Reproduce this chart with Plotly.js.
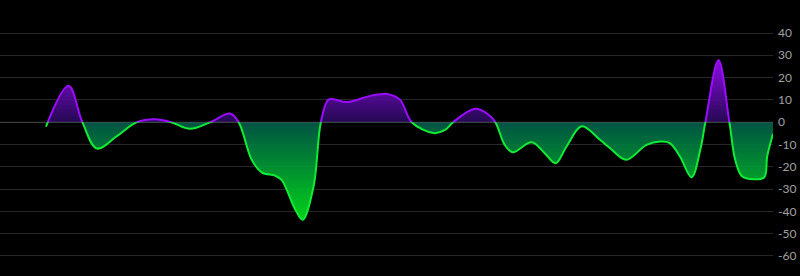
<!DOCTYPE html>
<html>
<head>
<meta charset="utf-8">
<script src="https://cdn.plot.ly/plotly-3.0.1.min.js"></script>
<style>
  html, body { margin: 0; padding: 0; background: #000; }
  #chart { width: 800px; height: 276px; }
</style>
</head>
<body>
<div id="chart"></div>
<script>
// time (arbitrary units) and signal values
const time = [0, 3.1, 5.0, 7.0, 9.7, 12.5, 15.0, 17.2, 19.8, 22.6, 25.3, 26.5, 28.3, 29.7, 31.5, 32.4,
  34.3, 35.3, 36.8, 37.8, 38.8, 39.5, 41.4, 44.6, 46.9, 48.7, 50.3, 53.3, 54.9, 56.0, 59.0, 60.6,
  61.8, 63.1, 64.2, 66.8, 68.6, 70.1, 71.6, 73.7, 76.2, 77.6, 79.8, 82.6, 84.5, 85.8, 87.2, 88.8,
  90.0, 90.7, 92.5, 94.0, 94.8, 95.7, 97.3, 98.8, 99.2, 100];
const signal = [-2, 16.3, 0, -11.8, -6.4, 0, 1.3, 0, -3, 0, 3.9, 0, -16.9, -22.6, -24, -25.9,
  -39.3, -43.8, -28.9, 0, 10, 10.3, 9.0, 11.8, 12.6, 10, 0, -4.9, -3.5, 0, 6, 4,
  0, -10.2, -13.5, -9, -13.9, -18.4, -10.9, -1.8, -7.9, -11.7, -16.9, -10.2, -8.7, -9.4, -15.4, -24.7,
  -12.4, 0, 27.9, 0, -16.9, -24.1, -25.6, -24.7, -15.4, -5.2];
const tickValues = [40, 30, 20, 10, 0, -10, -20, -30, -40, -50, -60];

const yMin = -69, yMax = 54.8;
const split = (0 - yMin) / (yMax - yMin);

const upper = {
  x: time, y: signal, xaxis: 'x', yaxis: 'y2', type: 'scatter', mode: 'lines',
  line: { shape: 'spline', smoothing: 1, color: '#9a0cff', width: 2 },
  fill: 'tozeroy',
  fillgradient: { type: 'vertical', start: 0, stop: 28,
    colorscale: [[0, 'rgba(40,10,90,0.92)'], [1, 'rgba(150,10,240,0.95)']] },
  hoverinfo: 'skip', showlegend: false
};
const lower = {
  x: time, y: signal, xaxis: 'x', yaxis: 'y3', type: 'scatter', mode: 'lines',
  line: { shape: 'spline', smoothing: 1, color: '#10ec34', width: 2 },
  fill: 'tozeroy',
  fillgradient: { type: 'vertical', start: -44, stop: 0,
    colorscale: [[0, 'rgba(0,228,28,0.92)'], [1, 'rgba(0,90,72,0.92)']] },
  hoverinfo: 'skip', showlegend: false
};
const base = { x: [], y: [], xaxis: 'x', yaxis: 'y', type: 'scatter', mode: 'lines', hoverinfo: 'skip', showlegend: false };

const layout = {
  width: 800, height: 276,
  margin: { l: 0, r: 27, t: 0, b: 0, pad: 0 },
  paper_bgcolor: '#000', plot_bgcolor: 'rgba(0,0,0,0)',
  showlegend: false,
  xaxis: { range: [-6.33, 100], visible: false, domain: [0, 1], fixedrange: true },
  yaxis: { range: [yMin, yMax], domain: [0, 1], side: 'right', tickvals: tickValues,
    ticktext: tickValues.map(String),
    showgrid: true, gridcolor: '#282828', gridwidth: 1, zeroline: false, showline: false,
    ticks: '', ticklabelstandoff: 4,
    tickfont: { family: 'Lato, sans-serif', size: 12, color: '#a0a0a0' }, fixedrange: true },
  yaxis2: { range: [0, yMax], domain: [split, 1], anchor: 'x', visible: false, fixedrange: true },
  yaxis3: { range: [yMin, 0], domain: [0, split], anchor: 'x', visible: false, fixedrange: true },
  shapes: [{ type: 'line', xref: 'paper', yref: 'y', x0: 0, x1: 1, y0: 0, y1: 0,
    line: { color: 'rgba(255,255,255,0.16)', width: 1 }, layer: 'above' }]
};

Plotly.newPlot('chart', [base, upper, lower], layout, { displayModeBar: false, staticPlot: true });
</script>
</body>
</html>
